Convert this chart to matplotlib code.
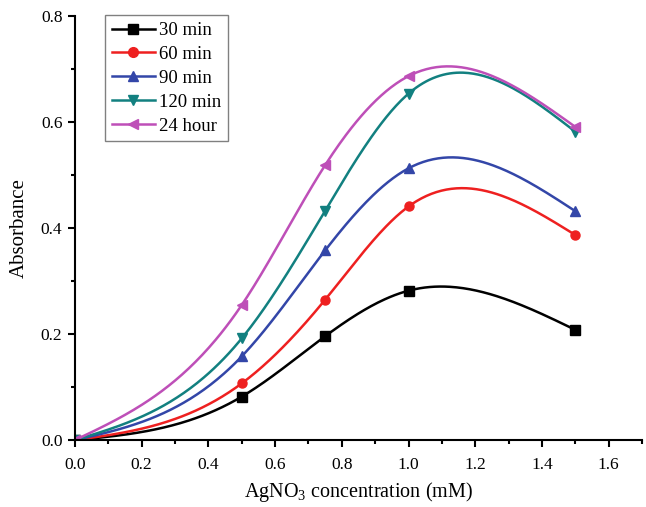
import matplotlib
matplotlib.use('Agg')
import matplotlib.pyplot as plt
from matplotlib.ticker import MultipleLocator
import numpy as np

plt.rcParams['font.family'] = ['Liberation Serif', 'DejaVu Serif']
plt.rcParams['mathtext.fontset'] = 'custom'
plt.rcParams['mathtext.rm'] = 'Liberation Serif'

conc = [0.0, 0.5, 0.75, 1.0, 1.5]
labels = ['30 min', '60 min', '90 min', '120 min', '24 hour']
abs_30min = [0.0, 0.082, 0.196, 0.282, 0.208]
abs_60min = [0.0, 0.107, 0.265, 0.441, 0.387]
abs_90min = [0.0, 0.158, 0.358, 0.513, 0.432]
abs_120min = [0.0, 0.192, 0.433, 0.654, 0.582]
abs_24h = [0.0, 0.255, 0.519, 0.687, 0.591]

colors = ['#000000', '#EE2020', '#3346A8', '#128080', '#BE4FB8']
markers = ['s', 'o', '^', 'v', '<']


def natural_spline(x, y, n=300):
    """Natural cubic spline through the points (numpy only)."""
    x = np.asarray(x, float)
    y = np.asarray(y, float)
    k = len(x)
    h = np.diff(x)
    A = np.zeros((k, k))
    b = np.zeros(k)
    A[0, 0] = A[-1, -1] = 1
    for i in range(1, k - 1):
        A[i, i - 1] = h[i - 1]
        A[i, i] = 2 * (h[i - 1] + h[i])
        A[i, i + 1] = h[i]
        b[i] = 3 * ((y[i + 1] - y[i]) / h[i] - (y[i] - y[i - 1]) / h[i - 1])
    c = np.linalg.solve(A, b)
    xs = np.linspace(x[0], x[-1], n)
    ys = np.empty_like(xs)
    for j, xv in enumerate(xs):
        i = min(np.searchsorted(x, xv, side='right') - 1, k - 2)
        dx = xv - x[i]
        bi = (y[i + 1] - y[i]) / h[i] - h[i] * (2 * c[i] + c[i + 1]) / 3
        di = (c[i + 1] - c[i]) / (3 * h[i])
        ys[j] = y[i] + bi * dx + c[i] * dx ** 2 + di * dx ** 3
    return xs, ys


fig = plt.figure(figsize=(6.46, 5.07), dpi=100)
ax = fig.add_axes([0.116, 0.132, 0.878, 0.836])

series = [abs_30min, abs_60min, abs_90min, abs_120min, abs_24h]
for vals, lab, col, mk in zip(series, labels, colors, markers):
    xs, ys = natural_spline(conc, vals)
    ax.plot(xs, ys, color=col, lw=1.8)
    ax.plot(conc, vals, ls='none', marker=mk, color=col, ms=6.5)
    # proxy for legend
    ax.plot([], [], color=col, lw=1.8, marker=mk, ms=7, label=lab)

ax.set_xlim(0, 1.7)
ax.set_ylim(0, 0.8)
ax.xaxis.set_major_locator(MultipleLocator(0.2))
ax.xaxis.set_minor_locator(MultipleLocator(0.1))
ax.yaxis.set_major_locator(MultipleLocator(0.2))
ax.yaxis.set_minor_locator(MultipleLocator(0.1))
ax.xaxis.set_major_formatter(plt.FormatStrFormatter('%.1f'))
ax.yaxis.set_major_formatter(plt.FormatStrFormatter('%.1f'))

for s in ['top', 'right']:
    ax.spines[s].set_visible(False)
for s in ['left', 'bottom']:
    ax.spines[s].set_linewidth(1.5)
ax.tick_params(which='major', direction='out', length=5, width=1.5, labelsize=12.5)
ax.tick_params(axis='x', which='major', pad=7)
ax.tick_params(axis='y', which='major', pad=4)
ax.tick_params(which='minor', direction='out', length=3, width=1.5)

ax.set_xlabel('AgNO$_3$ concentration (mM)', fontsize=14.5, labelpad=5)
ax.set_ylabel('Absorbance', fontsize=15, labelpad=9)

handles, labs = ax.get_legend_handles_labels()
leg = ax.legend(handles[-5:], labs[-5:], loc='upper left', bbox_to_anchor=(0.053, 1.002),
                borderaxespad=0, fontsize=13.5, fancybox=False, framealpha=1,
                edgecolor='#808080', handlelength=2.3, handletextpad=0.25,
                labelspacing=0.36, borderpad=0.35)
leg.get_frame().set_linewidth(1.0)

plt.savefig('out.png', dpi=100, facecolor='white')
plt.close()
